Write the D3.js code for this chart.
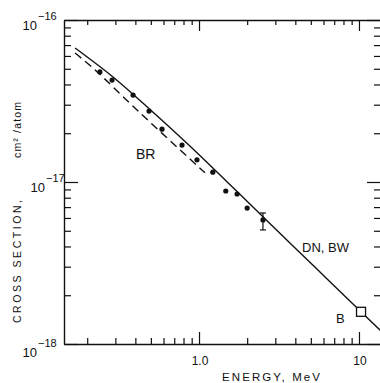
<!DOCTYPE html>
<html>
<head>
<meta charset="utf-8">
<script src="https://cdn.jsdelivr.net/npm/d3@7"></script>
<style>
  body { margin: 0; background: #fff; }
  svg { display: block; }
  text { font-family: "Liberation Sans", Arial, sans-serif; fill: #111; }
</style>
</head>
<body>
<div id="chart"></div>
<script>
'use strict';

// theory curves (energy in MeV, cross section in cm^2/atom)
const solidEnergy = [0.168, 0.29, 0.5, 0.88, 1.5, 2.51, 5.5, 10.3, 14];
const solidSigma = [6.72e-17, 4.45e-17, 2.77e-17, 1.66e-17, 1.0e-17, 6.1e-18, 2.88e-18, 1.58e-18, 1.18e-18];

const dashedEnergy = [0.168, 0.2175, 0.428, 1.09];
const dashedSigma = [6.25e-17, 5.05e-17, 2.67e-17, 1.14e-17];

// measured points
const dotEnergy = [0.24, 0.286, 0.387, 0.487, 0.587, 0.783, 0.971, 1.22, 1.47, 1.73, 2.0, 2.51];
const dotSigma = [4.78e-17, 4.26e-17, 3.44e-17, 2.74e-17, 2.12e-17, 1.69e-17, 1.37e-17, 1.15e-17, 8.8e-18, 8.43e-18, 6.9e-18, 5.83e-18];
const errorBar = {energy: 2.51, low: 5.06e-18, high: 6.44e-18};

const squareEnergy = [10.3];
const squareSigma = [1.58e-18];

const xMajor = [1, 10];
const xMajorLabels = ['1.0', '10'];
const yDecades = [-16, -17, -18];

const width = 380, height = 383;
const frame = {left: 64, right: 381, top: 20, bottom: 344};

const x = d3.scaleLog().domain([0.1432, 13.73]).range([frame.left, frame.right]);
const y = d3.scaleLog().domain([1e-18, 1e-16]).range([frame.bottom, frame.top]);

const svg = d3.select('#chart').append('svg')
    .attr('width', width).attr('height', height);

const minorOf = (lo, hi) => {
    const out = [];
    for (let e = Math.floor(Math.log10(lo)); e <= Math.ceil(Math.log10(hi)); e++) {
        for (let m = 2; m <= 9; m++) {
            const v = m * Math.pow(10, e);
            if (v > lo && v < hi) out.push(v);
        }
    }
    return out;
};
const xMinor = minorOf(x.domain()[0], x.domain()[1]);
const yMinor = minorOf(1e-18, 1e-16);
const yMajor = yDecades.map(d => Math.pow(10, d));

const styleAxis = g => {
    g.selectAll('path').attr('stroke', '#111').attr('stroke-width', 1.4);
    g.selectAll('line').attr('stroke', '#111').attr('stroke-width', 1.2);
    g.selectAll('text').remove();
};

// bottom axis, ticks inward
svg.append('g').attr('transform', `translate(0,${frame.bottom})`)
    .call(d3.axisTop(x).tickValues(xMinor).tickSizeInner(6).tickSizeOuter(0).tickFormat(''))
    .call(styleAxis);
svg.append('g').attr('transform', `translate(0,${frame.bottom})`)
    .call(d3.axisTop(x).tickValues(xMajor).tickSizeInner(12).tickSizeOuter(0).tickFormat(''))
    .call(g => g.select('.domain').remove())
    .call(styleAxis);

// top axis
svg.append('g').attr('transform', `translate(0,${frame.top})`)
    .call(d3.axisBottom(x).tickValues(xMinor).tickSizeInner(5).tickSizeOuter(0).tickFormat(''))
    .call(styleAxis);
svg.append('g').attr('transform', `translate(0,${frame.top})`)
    .call(d3.axisBottom(x).tickValues(xMajor).tickSizeInner(11).tickSizeOuter(0).tickFormat(''))
    .call(g => g.select('.domain').remove())
    .call(styleAxis);

// left axis
svg.append('g').attr('transform', `translate(${frame.left},0)`)
    .call(d3.axisRight(y).tickValues(yMinor).tickSizeInner(7).tickSizeOuter(0).tickFormat(''))
    .call(styleAxis);
svg.append('g').attr('transform', `translate(${frame.left},0)`)
    .call(d3.axisRight(y).tickValues(yMajor).tickSizeInner(14).tickSizeOuter(0).tickFormat(''))
    .call(g => g.select('.domain').remove())
    .call(styleAxis);

// right axis (mostly off the page)
svg.append('g').attr('transform', `translate(${frame.right},0)`)
    .call(d3.axisLeft(y).tickValues(yMinor).tickSizeInner(7).tickSizeOuter(0).tickFormat(''))
    .call(styleAxis);
svg.append('g').attr('transform', `translate(${frame.right},0)`)
    .call(d3.axisLeft(y).tickValues(yMajor).tickSizeInner(14).tickSizeOuter(0).tickFormat(''))
    .call(g => g.select('.domain').remove())
    .call(styleAxis);

// x tick labels
svg.selectAll('.xlab').data(xMajor).join('text')
    .attr('class', 'xlab')
    .attr('x', d => x(d) + 1).attr('y', frame.bottom + 21)
    .attr('text-anchor', 'middle').attr('font-size', 12)
    .text((d, i) => xMajorLabels[i]);

// y decade labels: 10 with superscript exponent
const yLabShift = [-27, -19, -27];
const yLabDrop = [10, 10, 13];
yDecades.forEach((dec, i) => {
    const yy = y(Math.pow(10, dec));
    const bx = frame.left + yLabShift[i];
    svg.append('text').attr('x', bx).attr('y', yy + yLabDrop[i])
        .attr('text-anchor', 'end').attr('font-size', 13).text('10');
    svg.append('text').attr('x', bx + 1).attr('y', yy + yLabDrop[i] - 10)
        .attr('font-size', 11).text(String(dec).replace('-', '\u2212'));
});

// axis titles
svg.append('text')
    .attr('transform', 'translate(21,323) rotate(-90)')
    .attr('font-size', 10.5).attr('textLength', 123).attr('lengthAdjust', 'spacing')
    .text('CROSS SECTION,');
svg.append('text')
    .attr('transform', 'translate(21,158) rotate(-90)')
    .attr('font-size', 10.5).attr('textLength', 56).attr('lengthAdjust', 'spacing')
    .text('cm\u00b2 /atom');
svg.append('text')
    .attr('x', 222).attr('y', 381)
    .attr('font-size', 11.5).attr('textLength', 98).attr('lengthAdjust', 'spacing')
    .text('ENERGY, MeV');

// curves
const line = d3.line().x(d => x(d[0])).y(d => y(d[1])).curve(d3.curveCatmullRom.alpha(0.5));

const plot = svg.append('g');
plot.append('path')
    .datum(d3.zip(solidEnergy, solidSigma))
    .attr('d', line).attr('fill', 'none').attr('stroke', '#111').attr('stroke-width', 1.4);
plot.append('path')
    .datum(d3.zip(dashedEnergy, dashedSigma))
    .attr('d', line).attr('fill', 'none').attr('stroke', '#111').attr('stroke-width', 1.4)
    .attr('stroke-dasharray', '8,5');

plot.selectAll('.dot').data(d3.zip(dotEnergy, dotSigma)).join('circle')
    .attr('class', 'dot')
    .attr('cx', d => x(d[0])).attr('cy', d => y(d[1])).attr('r', 2.6)
    .attr('fill', '#111');

const eb = plot.append('g').attr('stroke', '#111').attr('stroke-width', 1.2);
eb.append('line').attr('x1', x(errorBar.energy)).attr('x2', x(errorBar.energy))
    .attr('y1', y(errorBar.high)).attr('y2', y(errorBar.low));
[errorBar.high, errorBar.low].forEach(v => {
    eb.append('line').attr('x1', x(errorBar.energy) - 3).attr('x2', x(errorBar.energy) + 3)
        .attr('y1', y(v)).attr('y2', y(v));
});

plot.selectAll('.sq').data(d3.zip(squareEnergy, squareSigma)).join('rect')
    .attr('class', 'sq')
    .attr('x', d => x(d[0]) - 4.5).attr('y', d => y(d[1]) - 4.5)
    .attr('width', 9).attr('height', 9)
    .attr('fill', '#fff').attr('stroke', '#111').attr('stroke-width', 1.3);

// curve labels
svg.append('text').attr('x', 136).attr('y', 159).attr('font-size', 14).text('BR');
svg.append('text').attr('x', 302).attr('y', 252).attr('font-size', 13).text('DN, BW');
svg.append('text').attr('x', 336).attr('y', 323).attr('font-size', 13).text('B');
</script>
</body>
</html>
